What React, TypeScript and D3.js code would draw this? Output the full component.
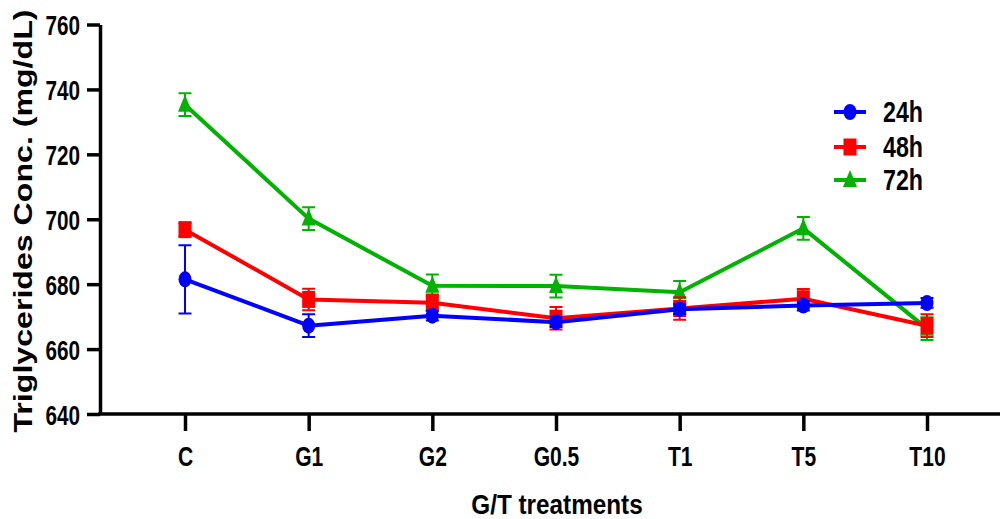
import React, { useEffect, useRef } from 'react';
import * as d3 from 'd3';

const groups = ['C', 'G1', 'G2', 'G0.5', 'T1', 'T5', 'T10'];
const yTicks = [640, 660, 680, 700, 720, 740, 760];

const h24 = [681.5, 667.2, 670.3, 668.3, 672.3, 673.4, 674.2];
const h24Err = [10.5, 3.5, 1.5, 1.5, 1.5, 1.5, 1.5];
const h48 = [696.8, 675.3, 674.3, 669.5, 672.5, 675.5, 667.2];
const h48Err = [2, 3.3, 2.5, 3.5, 3.5, 3, 3.5];
const h72 = [735.3, 700.2, 679.5, 679.4, 677.5, 697.2, 666.3];
const h72Err = [3.5, 3.5, 3.5, 3.5, 3.5, 3.5, 3.5];
// ————————————————————————————————

const FONT = '"Liberation Sans", Arial, Helvetica, sans-serif';

const App = () => {
  const ref = useRef<SVGSVGElement>(null);

  useEffect(() => {
    const W = 1000, H = 519;
    const svg = d3.select(ref.current);
    svg.selectAll('*').remove();
    svg.attr('width', W).attr('height', H).style('background', '#fff');

    const x = d3.scalePoint<string>().domain(groups).range([185, 927]);
    const y = d3.scaleLinear().domain([640, 760]).range([414, 24.5]);

    const series = [
      { name: '72h', color: '#00b300', shape: 'triangle', values: h72, err: h72Err },
      { name: '48h', color: '#ff0000', shape: 'square', values: h48, err: h48Err },
      { name: '24h', color: '#0000ff', shape: 'circle', values: h24, err: h24Err },
    ];

    const drawMarker = (g: any, shape: string, cx: number, cy: number, color: string) => {
      if (shape === 'circle') {
        g.append('ellipse').attr('cx', cx).attr('cy', cy).attr('rx', 6.5).attr('ry', 8).attr('fill', color);
      } else if (shape === 'square') {
        g.append('rect').attr('x', cx - 6.5).attr('y', cy - 8.5).attr('width', 13).attr('height', 17).attr('fill', color);
      } else {
        g.append('path')
          .attr('d', `M${cx},${cy - 10}L${cx + 7},${cy + 7}L${cx - 7},${cy + 7}Z`)
          .attr('fill', color);
      }
    };

    // Axes
    const yAxis = svg.append('g')
      .attr('transform', 'translate(100,0)')
      .call(d3.axisLeft(y).tickValues(yTicks).tickSize(13).tickSizeOuter(0).tickPadding(20));
    yAxis.select('.domain').attr('stroke-width', 3.5);
    yAxis.selectAll('.tick line').attr('stroke-width', 3.5);
    yAxis.selectAll('.tick text')
      .attr('font-family', FONT).attr('font-weight', 'bold').attr('font-size', 28)
      .attr('x', -20 / 0.74).attr('dy', '0.36em')
      .attr('transform', 'scale(0.74,1)');

    const xAxis = svg.append('g')
      .attr('transform', 'translate(0,414)')
      .call(d3.axisBottom(x).tickSize(17).tickSizeOuter(0));
    xAxis.select('.domain').attr('d', 'M98.25,0H1000').attr('stroke-width', 3.5);
    xAxis.selectAll('.tick line').attr('stroke-width', 3.5);
    xAxis.selectAll('.tick text')
      .attr('font-family', FONT).attr('font-weight', 'bold').attr('font-size', 27)
      .attr('x', 0).attr('y', 0).attr('dy', 52)
      .attr('transform', 'scale(0.78,1)');

    // Series
    series.forEach(s => {
      const g = svg.append('g');
      const line = d3.line<number>()
        .x((_, i) => x(groups[i]) as number)
        .y(d => y(d));
      g.append('path')
        .datum(s.values)
        .attr('fill', 'none')
        .attr('stroke', s.color)
        .attr('stroke-width', 4)
        .attr('stroke-linejoin', 'round')
        .attr('d', line);
      s.values.forEach((v, i) => {
        const cx = x(groups[i]) as number;
        const y0 = y(v + s.err[i]);
        const y1 = y(v - s.err[i]);
        g.append('path')
          .attr('d', `M${cx},${y0}V${y1}M${cx - 6.5},${y0}H${cx + 6.5}M${cx - 6.5},${y1}H${cx + 6.5}`)
          .attr('stroke', s.color)
          .attr('stroke-width', 2)
          .attr('fill', 'none');
        drawMarker(g, s.shape, cx, y(v), s.color);
      });
    });

    // Legend
    const legendRows = [series[2], series[1], series[0]];
    const legendY = [112, 147, 180];
    legendRows.forEach((s, i) => {
      const ly = legendY[i];
      svg.append('line')
        .attr('x1', 834).attr('x2', 866).attr('y1', ly).attr('y2', ly)
        .attr('stroke', s.color).attr('stroke-width', 4);
      drawMarker(svg, s.shape, 850, ly, s.color);
      svg.append('text')
        .attr('transform', `translate(883,${ly + 10}) scale(0.8,1)`)
        .attr('font-family', FONT).attr('font-weight', 'bold').attr('font-size', 29)
        .text(s.name);
    });

    // Axis titles
    svg.append('text')
      .attr('transform', 'translate(557,514) scale(0.9,1)')
      .attr('text-anchor', 'middle')
      .attr('font-family', FONT).attr('font-weight', 'bold').attr('font-size', 27)
      .text('G/T treatments');

    svg.append('text')
      .attr('transform', 'translate(32,221) rotate(-90)')
      .attr('x', 0).attr('y', 0)
      .attr('text-anchor', 'middle')
      .attr('font-family', FONT).attr('font-weight', 'bold').attr('font-size', 26)
      .attr('textLength', 423).attr('lengthAdjust', 'spacingAndGlyphs')
      .text('Triglycerides Conc. (mg/dL)');
  }, []);

  return (
    <svg ref={ref} style={{ position: 'absolute', left: 0, top: 0, display: 'block' }} />
  );
};

export default App;
